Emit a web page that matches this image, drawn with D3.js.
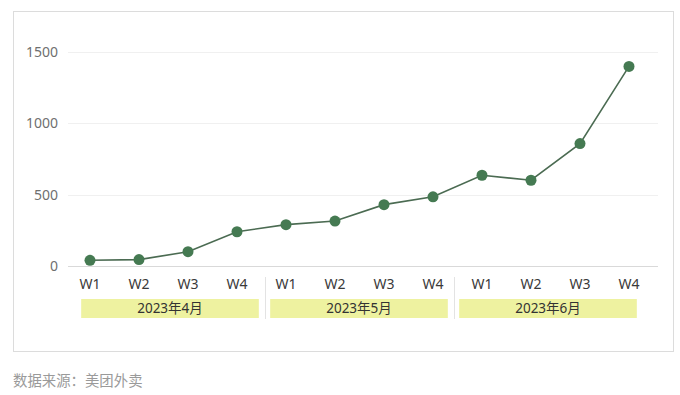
<!DOCTYPE html>
<html>
<head>
<meta charset="utf-8">
<script src="https://cdn.jsdelivr.net/npm/d3@7"></script>
<style>
  body { margin: 0; background: #fff; }
  text { font-family: "Noto Sans", "Noto Sans CJK SC", sans-serif; }
</style>
</head>
<body>
<div id="chart"></div>
<script>
// data
var months = ["2023年4月", "2023年5月", "2023年6月"];
var weeks = ["W1", "W2", "W3", "W4"];
var values = [40, 45, 100, 240, 290, 315, 430, 485, 636, 601, 858, 1399];
var yTicks = [0, 500, 1000, 1500];

var width = 680, height = 395;

var svg = d3.select("#chart")
	.append("svg")
	.attr("width", width)
	.attr("height", height);

// frame
svg.append("rect")
	.attr("x", 13.5).attr("y", 11.5)
	.attr("width", 660).attr("height", 340)
	.style("fill", "none")
	.style("stroke", "#dcdcdc");

// one entry per week
var points = [];
months.forEach(function (m, mi) {
	weeks.forEach(function (w, wi) {
		points.push({ key: m + w, month: m, week: w, value: values[mi * weeks.length + wi] });
	});
});

var xScale = d3.scaleBand()
	.domain(points.map(function (d) { return d.key; }))
	.range([65.5, 653.5]);

var yScale = d3.scaleLinear()
	.domain([0, 1500])
	.range([266, 52]);

var monthScale = d3.scaleBand()
	.domain(months)
	.range([75.5, 642.5])
	.paddingInner(0.06)
	.paddingOuter(0.03);

function cx(d) { return xScale(d.key) + xScale.bandwidth() / 2; }

// gridlines
svg.append("g")
	.selectAll("line")
	.data(yTicks)
	.enter()
	.append("line")
	.attr("x1", 68).attr("x2", 658)
	.attr("y1", function (d) { return Math.round(yScale(d)) + 0.5; })
	.attr("y2", function (d) { return Math.round(yScale(d)) + 0.5; })
	.style("stroke", function (d) { return d === 0 ? "#d9d9d9" : "#f0f0f0"; })
	.style("stroke-width", 1);

// y labels
svg.append("g")
	.selectAll("text")
	.data(yTicks)
	.enter()
	.append("text")
	.attr("x", 58)
	.attr("y", function (d) { return yScale(d); })
	.attr("dy", "0.35em")
	.attr("text-anchor", "end")
	.style("font-size", "14px")
	.style("fill", "#6f6f6f")
	.text(function (d) { return d; });

// line
var line = d3.line()
	.x(cx)
	.y(function (d) { return yScale(d.value); });

svg.append("path")
	.datum(points)
	.attr("d", line)
	.style("fill", "none")
	.style("stroke", "#4b6b52")
	.style("stroke-width", 1.6);

svg.append("g")
	.selectAll("circle")
	.data(points)
	.enter()
	.append("circle")
	.attr("cx", cx)
	.attr("cy", function (d) { return yScale(d.value); })
	.attr("r", 5.5)
	.style("fill", "#457a52");

// week labels
svg.append("g")
	.selectAll("text")
	.data(points)
	.enter()
	.append("text")
	.attr("x", cx)
	.attr("y", 284)
	.attr("dy", "0.35em")
	.attr("text-anchor", "middle")
	.style("font-size", "14px")
	.style("fill", "#3a3a3a")
	.text(function (d) { return d.week; });

// separators between months
svg.append("g")
	.selectAll("line")
	.data(months.slice(1))
	.enter()
	.append("line")
	.attr("x1", function (d) { return Math.round(monthScale(d) - monthScale.step() * monthScale.paddingInner() / 2) + 0.5; })
	.attr("x2", function (d) { return Math.round(monthScale(d) - monthScale.step() * monthScale.paddingInner() / 2) + 0.5; })
	.attr("y1", 277).attr("y2", 319)
	.style("stroke", "#e3e3e3");

// month boxes
var mg = svg.append("g")
	.selectAll("g")
	.data(months)
	.enter()
	.append("g");

mg.append("rect")
	.attr("x", function (d) { return monthScale(d); })
	.attr("y", 299)
	.attr("width", monthScale.bandwidth())
	.attr("height", 19)
	.style("fill", "#eef2a0");

mg.append("text")
	.attr("x", function (d) { return monthScale(d) + monthScale.bandwidth() / 2; })
	.attr("y", 308.5)
	.attr("dy", "0.35em")
	.attr("text-anchor", "middle")
	.style("font-size", "13.5px")
	.style("fill", "#333")
	.text(function (d) { return d; });

// source
svg.append("text")
	.attr("x", 13)
	.attr("y", 386)
	.style("font-size", "14.4px")
	.style("fill", "#9a9a9a")
	.text("数据来源：美团外卖");
</script>
</body>
</html>
